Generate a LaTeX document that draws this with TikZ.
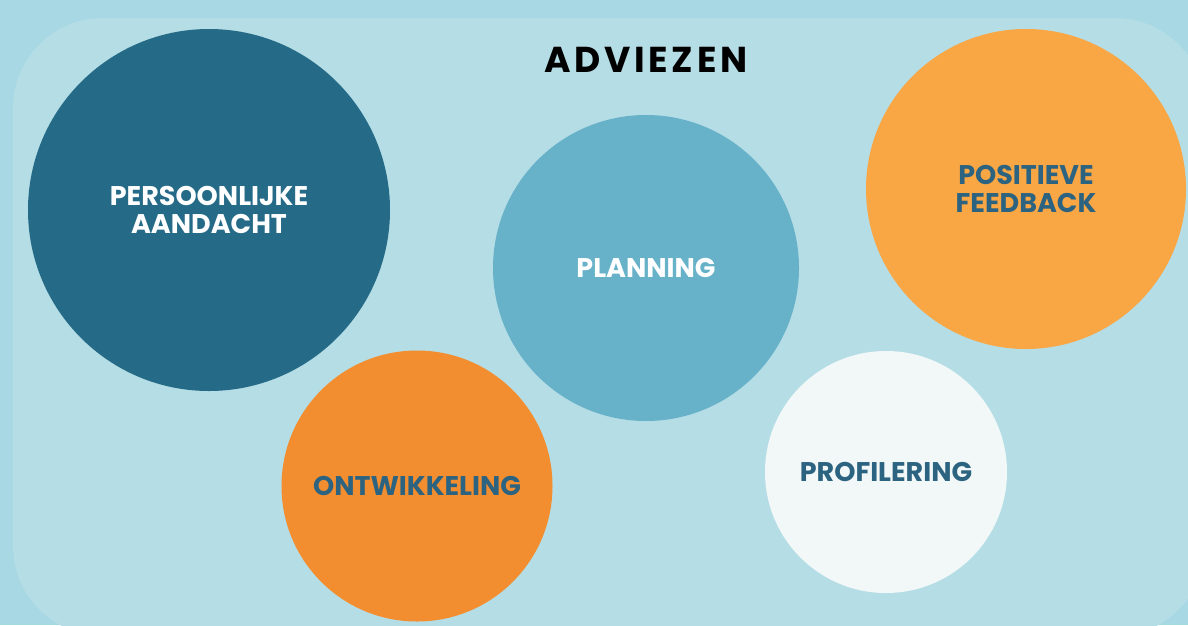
\documentclass[tikz,border=0pt]{standalone}
\usepackage{fontspec}
\setmainfont{Poppins}
\newfontfamily\titlefont[LetterSpace=10]{Poppins}
\definecolor{outerbg}{HTML}{A7D8E4}
\definecolor{innerbg}{HTML}{B5DDE5}
\definecolor{darkteal}{HTML}{256B88}
\definecolor{midblue}{HTML}{67B2C9}
\definecolor{lightorange}{HTML}{F9A645}
\definecolor{orange}{HTML}{F38E30}
\definecolor{offwhite}{HTML}{F2F7F7}
\definecolor{textteal}{HTML}{2C6380}
\tikzset{
  bubble/.style={circle, inner sep=0pt, align=center, font=\fontsize{27}{28}\selectfont\bfseries},
}
\begin{document}
\begin{tikzpicture}[x=1pt,y=-1pt]
\useasboundingbox (0,0) rectangle (1188,625);
\clip (0,0) rectangle (1188,625);
\fill[outerbg] (0,0) rectangle (1188,625);
\fill[innerbg, rounded corners=90pt] (13,18) rectangle (1205,636);
\node[font=\titlefont\fontsize{36}{40}\selectfont\bfseries, text=black] (title) at (646,60) {ADVIEZEN};
\node[bubble, fill=darkteal, minimum size=362pt, text=white] (pa) at (209,210) {PERSOONLIJKE\\AANDACHT};
\node[bubble, fill=midblue, minimum size=306pt, text=white] (pl) at (646,268) {PLANNING};
\node[bubble, fill=lightorange, minimum size=320pt, text=textteal] (pf) at (1026,189) {POSITIEVE\\FEEDBACK};
\node[bubble, fill=orange, minimum size=271pt, text=textteal] (on) at (417,486) {ONTWIKKELING};
\node[bubble, fill=offwhite, minimum size=242pt, text=textteal] (pr) at (886,472) {PROFILERING};
\end{tikzpicture}
\end{document}
